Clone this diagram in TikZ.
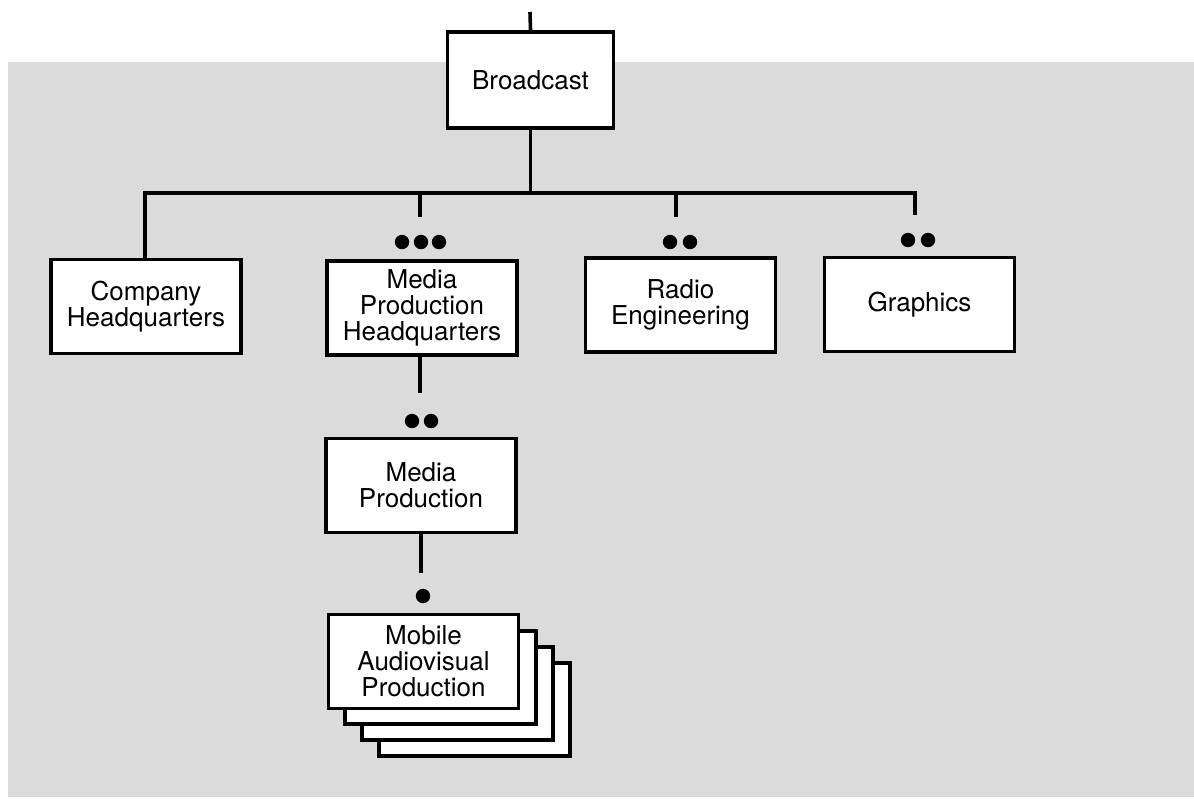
\documentclass[tikz,border=0pt]{standalone}
\usepackage{fontspec}
\setmainfont{TeX Gyre Heros}
\usepackage{tikz}
\usetikzlibrary{calc}

\tikzset{
  unit/.style={draw, line width=1.8pt, fill=white, align=center,
    minimum width=95pt, minimum height=47pt, inner sep=2pt,
    font=\fontsize{13}{13}\selectfont},
  link/.style={line width=1.8pt},
}

\begin{document}
\begin{tikzpicture}[x=0.5pt,y=-0.5pt]
  \useasboundingbox (0,0) rectangle (1194,799);
  % halftone background
  \fill[black!14] (8,62) rectangle (1194,797);

  % units
  \node[unit, minimum width=83pt, minimum height=48pt] (bc) at (530.5,80) {Broadcast};
  \node[unit] (chq) at (146,306.5) {Company\\Headquarters};
  \node[unit] (mphq) at (422,308) {Media\\Production\\Headquarters};
  \node[unit] (radio) at (680.5,305) {Radio\\Engineering};
  \node[unit] (gfx) at (919.5,304.5) {Graphics};
  \node[unit] (mp) at (421,485.5) {Media\\Production};
  % stacked cards behind the mobile unit
  \foreach \k in {3,2,1}{
    \draw[link, fill=white] (328+17*\k,615+16*\k) rectangle (519+17*\k,708+16*\k);
  }
  \node[unit] (mob) at (423.5,661.5) {Mobile\\Audiovisual\\Production};

  % bus
  \coordinate (top) at (530,12);
  \coordinate (busL) at (145,193);
  \coordinate (busR) at (915,193);
  \coordinate (mphqS) at (420,217);
  \coordinate (radioS) at (676,217);
  \coordinate (gfxS) at (915,215);
  \coordinate (mpS) at (420,393);
  \coordinate (mobS) at (421,573);

  \draw[link] (top) -- (bc.north);
  \draw[link] (bc.south) -- (bc.south |- busL);
  \draw[link] (chq.north -| busL) -- (busL) -- (busR) -- (gfxS);
  \draw[link] (mphqS |- busL) -- (mphqS);
  \draw[link] (radioS |- busL) -- (radioS);
  \draw[link] (mphq.south -| mpS) -- (mpS);
  \draw[link] (mp.south -| mobS) -- (mobS);

  % multiplicity dots
  \foreach \x in {402,421,439} \fill (\x,242) circle(3.6pt);
  \foreach \x in {670,690} \fill (\x,242) circle(3.6pt);
  \foreach \x in {908,928} \fill (\x,240) circle(3.6pt);
  \foreach \x in {412,431} \fill (\x,421) circle(3.6pt);
  \fill (423,596) circle(3.6pt);
\end{tikzpicture}
\end{document}
